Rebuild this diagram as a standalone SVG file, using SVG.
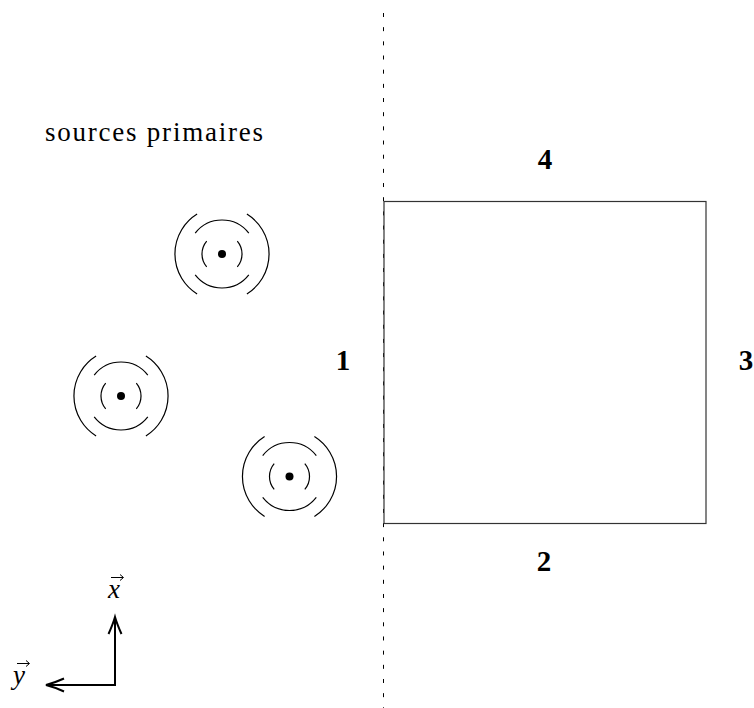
<svg xmlns="http://www.w3.org/2000/svg" width="754" height="708" viewBox="0 0 754 708">
<style>
.ln{fill:none;stroke:#000;stroke-width:1.2}
.lbl{font-family:'Liberation Serif','Times New Roman','DejaVu Serif',serif;font-weight:bold;font-size:29px;fill:#000;text-anchor:middle}
.txt{font-family:'Liberation Serif','Times New Roman','DejaVu Serif',serif;font-size:27px;fill:#000}
.vec{font-family:'Liberation Serif','Times New Roman','DejaVu Serif',serif;font-style:italic;font-size:27px;fill:#000}
.ax{fill:none;stroke:#000;stroke-width:2}
</style>
<defs>
<g id="src">
<circle cx="0" cy="0" r="4" fill="#000"/>
<path class="ln" d="M -15.3 -12.9 A 20 20 0 0 0 -15.3 12.9 M 15.3 -12.9 A 20 20 0 0 1 15.3 12.9"/>
<path class="ln" d="M -26.8 -20.9 A 34 34 0 0 1 26.8 -20.9 M -26.8 20.9 A 34 34 0 0 0 26.8 20.9"/>
<path class="ln" d="M -24.9 -39.9 A 47 47 0 0 0 -24.9 39.9 M 24.9 -39.9 A 47 47 0 0 1 24.9 39.9"/>
</g>
</defs>
<rect width="754" height="708" fill="#fff"/>
<g id="connectors">
<line x1="383.5" y1="13" x2="383.5" y2="708" stroke="#000" stroke-width="1" stroke-dasharray="4 10.17"/>
</g>
<g id="domain">
<rect x="384" y="201.5" width="322" height="322" fill="none" stroke="#333" stroke-width="1.2"/>
</g>
<g id="label-sources"><text class="txt" x="45" y="141" textLength="218" lengthAdjust="spacing">sources primaires</text></g>
<g id="source1"><use href="#src" transform="translate(222,254)"/></g>
<g id="source2"><use href="#src" transform="translate(121,396)"/></g>
<g id="source3"><use href="#src" transform="translate(289.5,476.5)"/></g>
<g id="side1"><text class="lbl" x="343" y="370">1</text></g>
<g id="side2"><text class="lbl" x="544" y="571">2</text></g>
<g id="side3"><text class="lbl" x="746" y="370">3</text></g>
<g id="side4"><text class="lbl" x="545" y="169">4</text></g>
<g id="axes">
<path class="ax" d="M 115 617 L 115 685 L 46 685"/>
<path class="ax" d="M 108.5 634 Q 113 624 115 617 Q 117 624 121.5 634"/>
<path class="ax" d="M 64 678.5 Q 54 683 46 685 Q 54 687 64 691.5"/>
<text class="vec" x="108" y="598">x</text>
<path d="M 111 577.5 L 123 577.5 M 120 574.5 L 123.5 577.5 L 120 580.5" fill="none" stroke="#000" stroke-width="1"/>
<text class="vec" x="13" y="684">y</text>
<path d="M 17 663.5 L 29 663.5 M 26 660.5 L 29.5 663.5 L 26 666.5" fill="none" stroke="#000" stroke-width="1"/>
</g>
</svg>
